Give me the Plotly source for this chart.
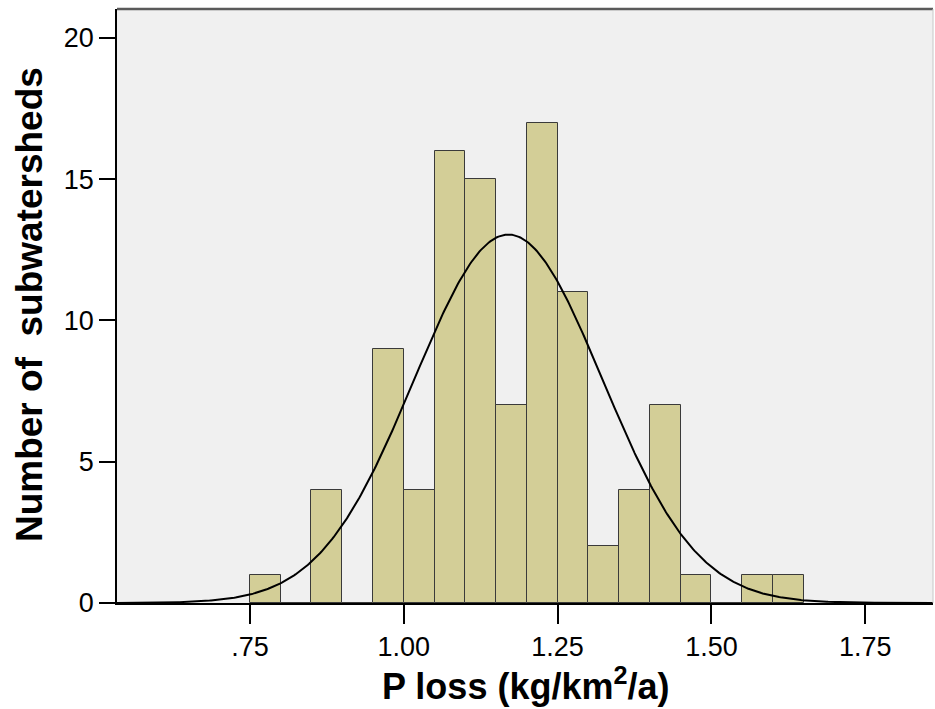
import numpy as np
import plotly.graph_objects as go

# Histogram data (bin left edges, bin width 0.05)
bin_left = [0.75, 0.80, 0.85, 0.90, 0.95, 1.00, 1.05, 1.10, 1.15, 1.20,
            1.25, 1.30, 1.35, 1.40, 1.45, 1.50, 1.55, 1.60]
counts = [1, 0, 4, 0, 9, 4, 16, 15, 7, 17, 11, 2, 4, 7, 1, 0, 1, 1]
bin_width = 0.05

# Normal curve parameters
fit_mean = 1.17
fit_sd = 0.153
n_total = 100

x_tickvals = [0.75, 1.00, 1.25, 1.50, 1.75]
x_ticktext = [".75", "1.00", "1.25", "1.50", "1.75"]
y_tickvals = [0, 5, 10, 15, 20]

x_range = [0.534, 1.86]
y_range = [0, 21.02]

centers = [b + bin_width / 2 for b in bin_left]

xc = np.linspace(x_range[0], x_range[1], 600)
yc = n_total * bin_width / (fit_sd * np.sqrt(2 * np.pi)) * np.exp(-0.5 * ((xc - fit_mean) / fit_sd) ** 2)

FONT = "Liberation Sans, Arial, sans-serif"

fig = go.Figure()
fig.add_trace(go.Bar(
    x=centers, y=counts, width=bin_width,
    marker=dict(color="#d3ce97", line=dict(color="#3a3a3a", width=1)),
    hoverinfo="x+y", showlegend=False,
))
fig.add_trace(go.Scatter(
    x=xc, y=yc, mode="lines",
    line=dict(color="black", width=2),
    showlegend=False, hoverinfo="skip",
))

fig.update_layout(
    width=935, height=709,
    margin=dict(l=117, r=2, t=9, b=106),
    paper_bgcolor="white",
    plot_bgcolor="#f0f0f0",
    bargap=0,
    font=dict(family=FONT, color="black"),
    xaxis=dict(
        range=x_range, tickvals=x_tickvals, ticktext=x_ticktext,
        showgrid=False, zeroline=False,
        showline=True, linecolor="black", linewidth=1.5,
        ticks="outside", ticklen=19, tickwidth=1.5, tickcolor="black",
        tickfont=dict(size=27, family=FONT, color="black"),
    ),
    yaxis=dict(
        range=y_range, tickvals=y_tickvals,
        showgrid=False, zeroline=False,
        showline=True, linecolor="black", linewidth=1.5,
        ticks="outside", ticklen=16, tickwidth=1.5, tickcolor="black",
        tickfont=dict(size=27, family=FONT, color="black"),
    ),
    shapes=[
        dict(type="line", xref="paper", yref="paper", x0=0, x1=1, y0=1, y1=1,
             line=dict(color="#5a5a5a", width=2.5)),
        dict(type="line", xref="paper", yref="paper", x0=1, x1=1, y0=0, y1=1,
             line=dict(color="#c8c8c8", width=1)),
    ],
    annotations=[
        dict(text="<b>Number of  subwatersheds</b>", xref="paper", yref="paper",
             x=-0.108, y=0.503, xanchor="center", yanchor="middle",
             textangle=-90, showarrow=False,
             font=dict(size=37, family=FONT, color="black")),
        dict(text="<b>P loss (kg/km<sup>2</sup>/a)</b>", xref="paper", yref="paper",
             x=0.501, y=-0.137, xanchor="center", yanchor="middle",
             showarrow=False,
             font=dict(size=36, family=FONT, color="black")),
    ],
)

fig.write_html("out.html",
               config={"displayModeBar": False},
               post_script="document.body.style.margin='0';document.body.style.padding='0';")
